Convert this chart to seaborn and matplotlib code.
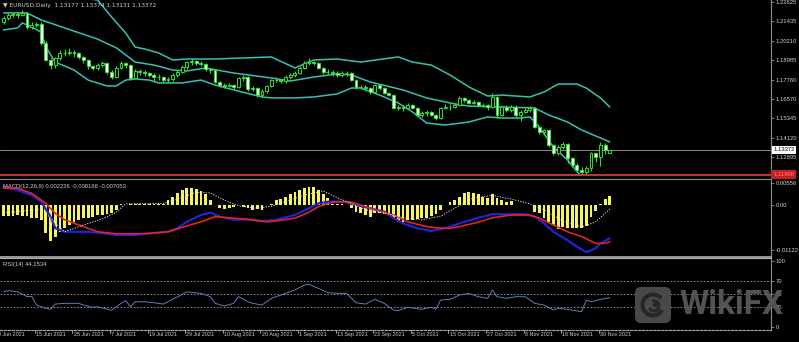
import numpy as np
import pandas as pd
import matplotlib
matplotlib.use("Agg")
import matplotlib.pyplot as plt
import matplotlib.transforms as mtrans
from matplotlib.patches import FancyBboxPatch, Wedge, Circle
import seaborn as sns

# ---------------- data (EURUSD daily, 4 Jun 2021 - 2 Dec 2021) ----------------
opens = [1.2137, 1.2162, 1.2181, 1.2187, 1.2181, 1.2194, 1.2106, 1.2118, 1.2125, 1.2005,
         1.1899, 1.1867, 1.1911, 1.1943, 1.1943, 1.1949, 1.1943, 1.1918, 1.1899, 1.1861,
         1.1849, 1.1867, 1.1880, 1.1824, 1.1792, 1.1849, 1.1880, 1.1867, 1.1786, 1.1830,
         1.1824, 1.1817, 1.1805, 1.1792, 1.1792, 1.1773, 1.1780, 1.1805, 1.1824, 1.1855,
         1.1886, 1.1893, 1.1880, 1.1874, 1.1842, 1.1836, 1.1761, 1.1742, 1.1736, 1.1742,
         1.1730, 1.1786, 1.1792, 1.1717, 1.1723, 1.1679, 1.1705, 1.1736, 1.1773, 1.1773,
         1.1767, 1.1792, 1.1805, 1.1817, 1.1849, 1.1880, 1.1886, 1.1880, 1.1849, 1.1824,
         1.1824, 1.1817, 1.1805, 1.1817, 1.1817, 1.1773, 1.1730, 1.1730, 1.1723, 1.1698,
         1.1742, 1.1723, 1.1692, 1.1679, 1.1598, 1.1604, 1.1598, 1.1617, 1.1598, 1.1554,
         1.1567, 1.1573, 1.1554, 1.1535, 1.1598, 1.1604, 1.1604, 1.1617, 1.1661, 1.1648,
         1.1629, 1.1636, 1.1617, 1.1617, 1.1604, 1.1667, 1.1554, 1.1604, 1.1585, 1.1604,
         1.1554, 1.1573, 1.1585, 1.1598, 1.1479, 1.1448, 1.1460, 1.1366, 1.1316, 1.1353,
         1.1372, 1.1284, 1.1240, 1.1209, 1.1197, 1.1222, 1.1316, 1.1291, 1.1366, 1.13177]
highs = [1.2175, 1.2195, 1.2200, 1.2200, 1.2210, 1.2200, 1.2135, 1.2140, 1.2135, 1.2015,
         1.1910, 1.1920, 1.1960, 1.1970, 1.1975, 1.1960, 1.1950, 1.1925, 1.1905, 1.1870,
         1.1880, 1.1895, 1.1885, 1.1835, 1.1860, 1.1890, 1.1885, 1.1875, 1.1840, 1.1840,
         1.1835, 1.1825, 1.1815, 1.1810, 1.1800, 1.1795, 1.1815, 1.1835, 1.1870, 1.1895,
         1.1905, 1.1900, 1.1890, 1.1880, 1.1850, 1.1845, 1.1770, 1.1755, 1.1755, 1.1750,
         1.1795, 1.1805, 1.1798, 1.1735, 1.1730, 1.1715, 1.1745, 1.1780, 1.1790, 1.1780,
         1.1805, 1.1815, 1.1830, 1.1860, 1.1890, 1.1910, 1.1895, 1.1885, 1.1855, 1.1840,
         1.1835, 1.1830, 1.1830, 1.1830, 1.1825, 1.1780, 1.1745, 1.1740, 1.1730, 1.1750,
         1.1750, 1.1730, 1.1700, 1.1685, 1.1615, 1.1615, 1.1630, 1.1625, 1.1605, 1.1580,
         1.1585, 1.1580, 1.1560, 1.1605, 1.1620, 1.1620, 1.1630, 1.1670, 1.1668, 1.1655,
         1.1650, 1.1640, 1.1630, 1.1625, 1.1690, 1.1675, 1.1615, 1.1615, 1.1615, 1.1615,
         1.1585, 1.1600, 1.1610, 1.1605, 1.1485, 1.1465, 1.1468, 1.1375, 1.1365, 1.1385,
         1.1380, 1.1290, 1.1255, 1.1225, 1.1235, 1.1325, 1.1300, 1.1383, 1.1380, 1.13374]
lows = [1.2125, 1.2150, 1.2168, 1.2165, 1.2175, 1.2095, 1.2093, 1.2105, 1.1990, 1.1890,
        1.1845, 1.1850, 1.1900, 1.1925, 1.1930, 1.1920, 1.1905, 1.1880, 1.1845, 1.1835,
        1.1838, 1.1855, 1.1810, 1.1780, 1.1785, 1.1840, 1.1850, 1.1772, 1.1780, 1.1805,
        1.1800, 1.1790, 1.1760, 1.1775, 1.1755, 1.1760, 1.1770, 1.1795, 1.1815, 1.1845,
        1.1870, 1.1865, 1.1860, 1.1830, 1.1820, 1.1752, 1.1730, 1.1725, 1.1730, 1.1715,
        1.1722, 1.1770, 1.1705, 1.1705, 1.1665, 1.1665, 1.1695, 1.1730, 1.1760, 1.1755,
        1.1755, 1.1780, 1.1795, 1.1810, 1.1840, 1.1865, 1.1865, 1.1840, 1.1810, 1.1810,
        1.1800, 1.1795, 1.1795, 1.1800, 1.1765, 1.1720, 1.1715, 1.1705, 1.1685, 1.1690,
        1.1710, 1.1685, 1.1670, 1.1590, 1.1585, 1.1580, 1.1590, 1.1590, 1.1545, 1.1540,
        1.1550, 1.1545, 1.1525, 1.1530, 1.1590, 1.1585, 1.1595, 1.1610, 1.1635, 1.1620,
        1.1620, 1.1605, 1.1605, 1.1585, 1.1595, 1.1535, 1.1545, 1.1575, 1.1570, 1.1540,
        1.1515, 1.1565, 1.1575, 1.1470, 1.1435, 1.1430, 1.1355, 1.1305, 1.1305, 1.1340,
        1.1250, 1.1225, 1.1200, 1.1186, 1.1185, 1.1205, 1.1260, 1.1235, 1.1310, 1.13131]
closes = [1.2162, 1.2181, 1.2187, 1.2181, 1.2194, 1.2106, 1.2118, 1.2125, 1.2005, 1.1899,
          1.1867, 1.1911, 1.1943, 1.1943, 1.1949, 1.1943, 1.1918, 1.1899, 1.1861, 1.1849,
          1.1867, 1.1880, 1.1824, 1.1792, 1.1849, 1.1880, 1.1867, 1.1786, 1.1830, 1.1824,
          1.1817, 1.1805, 1.1792, 1.1792, 1.1773, 1.1780, 1.1805, 1.1824, 1.1855, 1.1886,
          1.1893, 1.1880, 1.1874, 1.1842, 1.1836, 1.1761, 1.1742, 1.1736, 1.1742, 1.1730,
          1.1786, 1.1792, 1.1717, 1.1723, 1.1679, 1.1705, 1.1736, 1.1773, 1.1773, 1.1767,
          1.1792, 1.1805, 1.1817, 1.1849, 1.1880, 1.1886, 1.1880, 1.1849, 1.1824, 1.1824,
          1.1817, 1.1805, 1.1817, 1.1817, 1.1773, 1.1730, 1.1730, 1.1723, 1.1698, 1.1742,
          1.1723, 1.1692, 1.1679, 1.1598, 1.1604, 1.1598, 1.1617, 1.1598, 1.1554, 1.1567,
          1.1573, 1.1554, 1.1535, 1.1598, 1.1604, 1.1604, 1.1617, 1.1661, 1.1648, 1.1629,
          1.1636, 1.1617, 1.1617, 1.1604, 1.1667, 1.1554, 1.1604, 1.1585, 1.1604, 1.1554,
          1.1573, 1.1585, 1.1598, 1.1479, 1.1448, 1.1460, 1.1366, 1.1316, 1.1353, 1.1372,
          1.1284, 1.1240, 1.1209, 1.1197, 1.1222, 1.1316, 1.1291, 1.1366, 1.1334, 1.13372]

# Bollinger bands, read at a set of bar positions
bb_up_idx = [0, 12, 20, 23, 26, 28, 30, 33, 36, 39, 45, 57, 62, 66, 71, 76, 84, 87, 91, 95,
             99, 103, 106, 112, 115, 118, 122, 124, 127, 129]
bb_up_val = [1.2320, 1.2310, 1.2275, 1.2168, 1.2068, 1.1980, 1.1968, 1.1943, 1.1899, 1.1905,
             1.1905, 1.1918, 1.1849, 1.1899, 1.1905, 1.1886, 1.1918, 1.1886, 1.1867, 1.1805,
             1.1730, 1.1673, 1.1679, 1.1667, 1.1698, 1.1748, 1.1748, 1.1723, 1.1661, 1.1604]
bb_mid_idx = [0, 5, 8, 14, 20, 24, 28, 32, 36, 39, 43, 49, 57, 61, 66, 71, 74, 78, 85, 90,
              96, 99, 106, 113, 116, 120, 123, 127, 129]
bb_mid_val = [1.2194, 1.2194, 1.2150, 1.2090, 1.2030, 1.1975, 1.1886, 1.1867, 1.1836, 1.1830,
              1.1849, 1.1817, 1.1786, 1.1767, 1.1792, 1.1811, 1.1805, 1.1761, 1.1711, 1.1661,
              1.1623, 1.1610, 1.1604, 1.1598, 1.1554, 1.1510, 1.1460, 1.1410, 1.1385]
bb_low_idx = [0, 3, 4, 6, 8, 9, 11, 15, 18, 22, 24, 26, 28, 31, 33, 38, 42, 45, 49, 55,
              57, 62, 66, 71, 74, 76, 80, 84, 87, 90, 94, 99, 103, 106, 110, 112, 114, 117,
              120, 123, 126, 129]
bb_low_val = [1.2087, 1.2100, 1.2131, 1.2106, 1.2074, 1.1980, 1.1886, 1.1836, 1.1773, 1.1736,
              1.1736, 1.1773, 1.1780, 1.1773, 1.1755, 1.1755, 1.1773, 1.1742, 1.1711, 1.1667,
              1.1661, 1.1661, 1.1667, 1.1686, 1.1723, 1.1723, 1.1679, 1.1629, 1.1573, 1.1504,
              1.1491, 1.1510, 1.1542, 1.1535, 1.1535, 1.1542, 1.1479, 1.1353, 1.1272, 1.1165,
              1.1140, 1.1150]

# MACD histogram (one per bar)
macd_hist = [-0.0028, -0.0028, -0.0028, -0.0026, -0.0028, -0.0028, -0.0033, -0.0033, -0.0037, -0.0070,
             -0.0089, -0.0079, -0.0067, -0.0058, -0.0050, -0.0042, -0.0037, -0.0033, -0.0033, -0.0029,
             -0.0025, -0.0025, -0.0023, -0.0020, -0.0013, 0.0002, 0.0001, 0.0002, 0.0002, 0.0002,
             0.0002, 0.0002, 0.0002, 0.0002, 0.0003, 0.0012, 0.0020, 0.0029, 0.0037, 0.0042,
             0.0042, 0.0040, 0.0036, 0.0028, 0.0012, 0.0001, -0.0008, -0.0011, -0.0008, -0.0004,
             -0.0001, -0.0004, -0.0008, -0.0013, -0.0009, -0.0012, 0.0001, 0.0002, 0.0012, 0.0015,
             0.0020, 0.0027, 0.0032, 0.0037, 0.0042, 0.0046, 0.0044, 0.0037, 0.0027, 0.0018,
             0.0002, 0.0002, 0.0002, 0.0001, -0.0008, -0.0017, -0.0021, -0.0025, -0.0029, -0.0021,
             -0.0021, -0.0023, -0.0025, -0.0033, -0.0042, -0.0042, -0.0037, -0.0037, -0.0035, -0.0033,
             -0.0032, -0.0027, -0.0023, -0.0012, 0.0001, 0.0007, 0.0012, 0.0020, 0.0029, 0.0032,
             0.0029, 0.0027, 0.0020, 0.0018, 0.0027, 0.0018, 0.0012, 0.0008, 0.0010, 0.0001,
             0.0001, 0.0001, 0.0001, -0.0017, -0.0021, -0.0033, -0.0042, -0.0050, -0.0060, -0.0054,
             -0.0058, -0.0058, -0.0057, -0.0057, -0.0052, -0.0029, -0.0015, 0.0002, 0.0015, 0.0022]
sig_idx = [0, 8, 13, 17, 21, 24, 26, 34, 37, 41, 44, 47, 50, 54, 57, 60, 64, 68, 71, 74,
           77, 81, 85, 89, 93, 96, 100, 104, 108, 112, 115, 119, 123, 126, 129]
sig_val = [-0.0020, -0.0010, -0.0067, -0.0050, -0.0035, -0.0018, 0.0003, 0.0004, 0.0015, 0.0032,
           0.0030, 0.0012, -0.0002, -0.0008, -0.0003, 0.0008, 0.0025, 0.0035, 0.0018, 0.0004,
           -0.0012, -0.0020, -0.0032, -0.0037, -0.0028, -0.0008, 0.0018, 0.0024, 0.0015, 0.0003,
           -0.0012, -0.0040, -0.0055, -0.0042, -0.0010]
blue_idx = [0, 3, 6, 8, 10, 11, 13, 17, 20, 24, 28, 31, 35, 37, 39, 42, 44, 46, 49, 52,
            55, 58, 62, 65, 67, 69, 71, 73, 75, 78, 81, 83, 85, 88, 91, 94, 97, 101, 104, 108,
            111, 113, 115, 117, 120, 122, 124, 126, 127, 129]
blue_val = [0.0046, 0.0037, 0.0025, 0.0008, -0.0029, -0.0058, -0.0067, -0.0067, -0.0069, -0.0075,
            -0.0075, -0.0071, -0.0067, -0.0058, -0.0042, -0.0025, -0.0019, -0.0029, -0.0037, -0.0036,
            -0.0040, -0.0037, -0.0025, -0.0008, 0.0004, 0.0008, 0.0009, 0.0007, 0.0000, -0.0008,
            -0.0017, -0.0033, -0.0046, -0.0058, -0.0065, -0.0058, -0.0046, -0.0032, -0.0023, -0.0023,
            -0.0023, -0.0029, -0.0046, -0.0067, -0.0088, -0.0104, -0.0118, -0.0108, -0.0096, -0.0083]
red_idx = [0, 3, 6, 9, 11, 13, 17, 20, 24, 28, 31, 35, 38, 42, 45, 49, 52, 56, 58, 62,
           65, 67, 70, 72, 74, 76, 79, 83, 86, 90, 93, 95, 97, 101, 104, 108, 110, 112, 114, 117,
           120, 123, 126, 128, 129]
red_val = [0.0042, 0.0042, 0.0029, 0.0004, -0.0021, -0.0037, -0.0054, -0.0067, -0.0072, -0.0072,
           -0.0071, -0.0067, -0.0056, -0.0042, -0.0029, -0.0033, -0.0036, -0.0042, -0.0040, -0.0033,
           -0.0018, -0.0004, 0.0007, 0.0008, 0.0007, 0.0000, -0.0012, -0.0025, -0.0042, -0.0054,
           -0.0058, -0.0058, -0.0054, -0.0043, -0.0032, -0.0025, -0.0025, -0.0025, -0.0033, -0.0050,
           -0.0067, -0.0079, -0.0096, -0.0096, -0.0092]

# RSI(14)
rsi_idx = [0, 1, 3, 5, 6, 7, 9, 10, 11, 13, 16, 17, 19, 20, 23, 25, 26, 27, 28, 30,
           32, 34, 36, 39, 42, 44, 45, 47, 49, 50, 52, 53, 55, 57, 60, 62, 64, 65, 67, 69,
           71, 73, 75, 77, 79, 81, 83, 84, 86, 89, 91, 92, 93, 95, 97, 99, 100, 101, 103, 104,
           105, 107, 109, 111, 113, 115, 117, 118, 120, 123, 124, 125, 127, 129]
rsi_val = [53, 55, 53, 46, 46, 33, 28, 26.5, 34.5, 35.6, 35.6, 33, 29.5, 30.4, 25, 35.6, 39.6, 30.4, 38, 38,
           36.5, 34.5, 41.7, 53, 50.8, 45.7, 35.6, 31.5, 35.6, 45.7, 38, 35.6, 33, 43.2, 50.8, 55.9, 63.5, 64.5, 58.4, 51.8,
           50.8, 50.8, 36.5, 34.5, 41.7, 35.6, 25.4, 24.4, 29.5, 26.5, 29.5, 26.5, 40.6, 41.7, 48.2, 50.8, 48.2, 45.7, 43.2, 55.9,
           45.7, 43.2, 45.7, 45.7, 35.6, 33, 25.4, 27.9, 26.5, 22.8, 40.6, 38, 41.7, 44.15]

# axis text
price_ticks = [1.22625, 1.21435, 1.20210, 1.18985, 1.17760, 1.16570, 1.15345, 1.14120, 1.12895]
macd_ticks = [0.00556, 0.0, -0.01122]
macd_tick_labels = ["0.00556", "0.00", "-0.01122"]
rsi_ticks = [100, 70, 50, 30, 0]
rsi_levels = [70, 50, 30]
date_pos = [-1, 7, 15, 23, 31, 39, 47, 55, 63, 71, 79, 87, 95, 103, 111, 119, 127]
date_labels = ["3 Jun 2021", "15 Jun 2021", "25 Jun 2021", "7 Jul 2021", "19 Jul 2021",
               "29 Jul 2021", "10 Aug 2021", "20 Aug 2021", "1 Sep 2021", "13 Sep 2021",
               "23 Sep 2021", "5 Oct 2021", "15 Oct 2021", "27 Oct 2021", "8 Nov 2021",
               "18 Nov 2021", "30 Nov 2021"]
last_price = 1.13372
red_level = 1.11800
title_price = "\u25bc EURUSD,Daily  1.13177 1.13374 1.13131 1.13372"
title_macd = "MACD(12,26,9) 0.002226 -0.008166 -0.007053"
title_rsi = "RSI(14) 44.1534"
watermark = "WikiFX"

# ---------------- drawing ----------------
sns.set_style("dark")
plt.rcParams['font.family'] = ['Liberation Sans', 'DejaVu Sans']

W, H = 799, 342
fig = plt.figure(figsize=(W / 100, H / 100), dpi=100, facecolor='black')
PLOT_R = 771


def axes_px(top, bottom, left=0, right=PLOT_R):
    return fig.add_axes([left / W, 1 - bottom / H, (right - left) / W, (bottom - top) / H])


ax_p = axes_px(0, 176)
ax_m = axes_px(179, 257)
ax_r = axes_px(258, 330)

TXT = '#cfcfcf'
GRID = '#8c8c8c'
FS = 4.2
for ax in (ax_p, ax_m, ax_r):
    ax.set_facecolor('black')
    for s in ax.spines.values():
        s.set_visible(False)
    ax.spines['right'].set_visible(True)
    ax.spines['right'].set_color(GRID)
    ax.spines['right'].set_linewidth(0.8)
    ax.tick_params(axis='y', left=False, labelleft=False, right=True, labelright=True,
                   colors=GRID, labelcolor=TXT, length=2, width=0.6, labelsize=FS, pad=1.5)
    ax.tick_params(axis='x', bottom=False, labelbottom=False)
    ax.grid(False)

x = np.arange(len(closes))
o = np.array(opens); c = np.array(closes); h = np.array(highs); l = np.array(lows)
up = c >= o
body_lo = np.minimum(o, c)
body_h = np.maximum(np.abs(c - o), 0.00012)
GREEN = '#2fe02f'
ax_p.vlines(x, l, h, color=GREEN, lw=0.8, zorder=3)
ax_p.bar(x[up], body_h[up], bottom=body_lo[up], width=0.62, color='black',
         edgecolor=GREEN, linewidth=0.7, zorder=4)
ax_p.bar(x[~up], body_h[~up], bottom=body_lo[~up], width=0.62, color='#f4fff4',
         edgecolor=GREEN, linewidth=0.7, zorder=4)

BB = '#35c2b0'
for bi, bv in ((bb_up_idx, bb_up_val), (bb_mid_idx, bb_mid_val), (bb_low_idx, bb_low_val)):
    sns.lineplot(x=bi, y=bv, ax=ax_p, color=BB, linewidth=1.1, zorder=2, legend=False)

ax_p.axhline(last_price, color='#8a8a8a', lw=0.7, zorder=1)
ax_p.axhline(red_level, color='#d23c3c', lw=1.3, zorder=5)
ax_p.set_ylim(1.2275 - 0.000627 * 176, 1.2275)
ax_p.set_yticks(price_ticks)
ax_p.set_yticklabels([f"{t:.5f}" for t in price_ticks])

tr_p = mtrans.blended_transform_factory(ax_p.transAxes, ax_p.transData)
ax_p.text(1.003, last_price, f"{last_price:.5f}", transform=tr_p, ha='left', va='center',
          fontsize=FS, color='black', clip_on=False,
          bbox=dict(boxstyle='square,pad=0.25', fc='white', ec='none'))
ax_p.text(1.003, red_level, f"{red_level:.5f}", transform=tr_p, ha='left', va='center',
          fontsize=FS, color='#ff8080', clip_on=False,
          bbox=dict(boxstyle='square,pad=0.35', fc='#c81e1e', ec='none'))
ax_p.text(0.004, 0.985, title_price, transform=ax_p.transAxes, ha='left', va='top',
          fontsize=FS, color=TXT, family=['DejaVu Sans'])

# MACD
sns.barplot(x=x, y=macd_hist, native_scale=True, color='#f5f55a', saturation=1,
            width=0.6, edgecolor='none', ax=ax_m, zorder=2)
sns.lineplot(x=blue_idx, y=blue_val, ax=ax_m, color='#2222d8', linewidth=1.6, zorder=3, legend=False)
sns.lineplot(x=red_idx, y=red_val, ax=ax_m, color='#e0261e', linewidth=1.2, zorder=4, legend=False)
sns.lineplot(x=sig_idx, y=sig_val, ax=ax_m, color='#e8e8e8', linewidth=0.7, zorder=5,
             linestyle=(0, (1.2, 1.5)), legend=False)
ax_m.set_ylim(-0.013, 0.0065)
ax_m.set_yticks(macd_ticks)
ax_m.set_yticklabels(macd_tick_labels)
ax_m.spines['top'].set_visible(True)
ax_m.spines['top'].set_color(GRID)
ax_m.spines['bottom'].set_visible(True)
ax_m.spines['bottom'].set_color('#b0b0b0')
ax_m.spines['bottom'].set_linewidth(1.2)
ax_m.text(0.004, 0.94, title_macd, transform=ax_m.transAxes, ha='left', va='top',
          fontsize=FS, color=TXT)

# RSI
sns.lineplot(x=rsi_idx, y=rsi_val, ax=ax_r, color='#5a7fb8', linewidth=0.7, zorder=3, legend=False)
for lv in rsi_levels:
    ax_r.axhline(lv, color='#a0a0a0', lw=0.6, linestyle=(0, (2, 2)), zorder=1)
ax_r.set_ylim(-5.0, 104.6)
ax_r.set_yticks(rsi_ticks)
ax_r.set_yticklabels([str(t) for t in rsi_ticks])
ax_r.spines['top'].set_visible(True)
ax_r.spines['top'].set_color('#b0b0b0')
ax_r.spines['bottom'].set_visible(True)
ax_r.spines['bottom'].set_color('#a8a8a8')
ax_r.spines['bottom'].set_linestyle((0, (2, 1.5)))
ax_r.spines['bottom'].set_linewidth(0.8)
ax_r.text(0.004, 0.95, title_rsi, transform=ax_r.transAxes, ha='left', va='top',
          fontsize=FS, color=TXT)

tr_r = mtrans.blended_transform_factory(ax_r.transData, ax_r.transAxes)
for p, lab in zip(date_pos, date_labels):
    ax_r.plot([p - 0.35, p - 0.35], [0, -0.045], transform=tr_r, color='#b0b0b0', lw=0.6,
              clip_on=False)
    ax_r.text(p - 0.1, -0.03, lab, transform=tr_r, ha='left', va='top', fontsize=3.9,
              color=TXT, clip_on=False)

for ax in (ax_p, ax_m, ax_r):
    ax.set_xlim(-0.75, (PLOT_R - 3.5) / 4.7)
    ax.set_xlabel('')
    ax.set_ylabel('')

# WikiFX watermark: logo tile + word
ax_logo = fig.add_axes([634 / W, 1 - 324 / H, 38 / W, 38 / H], zorder=10)
ax_logo.set_xlim(0, 38)
ax_logo.set_ylim(0, 38)
ax_logo.axis('off')
ax_logo.patch.set_alpha(0)
ax_logo.add_patch(FancyBboxPatch((1, 1), 36, 36, boxstyle='round,pad=0,rounding_size=6',
                                 fc='#4f4f4f', ec='none', alpha=0.92))
ax_logo.add_patch(Wedge((19, 19), 12.5, 40, 330, width=4, fc='#262626', ec='none'))
ax_logo.add_patch(Wedge((20, 18), 6.5, 200, 110, width=3, fc='#262626', ec='none'))
ax_logo.add_patch(Circle((21, 19), 2.2, fc='#262626', ec='none'))
fig.text(679 / W, 1 - 305 / H, watermark, ha='left', va='center', fontsize=24,
         fontweight='bold', color='#585858', family=['Roboto', 'DejaVu Sans'],
         alpha=0.95, zorder=10)

fig.savefig('out.png', dpi=100, facecolor='black')
